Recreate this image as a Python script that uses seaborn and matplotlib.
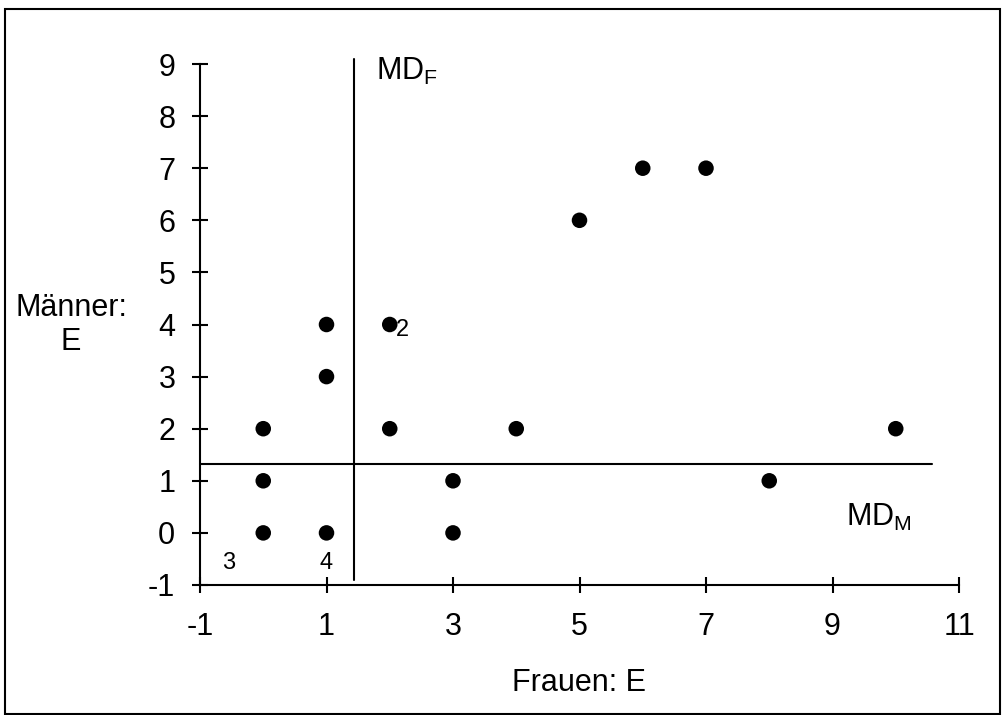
import matplotlib
matplotlib.use("Agg")
import matplotlib.pyplot as plt
import seaborn as sns
import pandas as pd
from matplotlib.patches import Rectangle

# Scores of the pairs: women (x) vs. men (y)
frauen = [0, 1, 3, 0, 3, 8, 0, 2, 4, 10, 1, 1, 2, 5, 6, 7]
maenner = [0, 0, 0, 1, 1, 1, 2, 2, 2, 2, 3, 4, 4, 6, 7, 7]

# Medians drawn as reference lines
md_frauen = 1.43
md_maenner = 1.33

x_ticks = [-1, 1, 3, 5, 7, 9, 11]
y_ticks = [-1, 0, 1, 2, 3, 4, 5, 6, 7, 8, 9]

# Count labels for points/quadrants: (x, y, text)
counts = [(-0.55, -0.57, "3"), (1.0, -0.57, "4"), (2.2, 3.9, "2")]

df = pd.DataFrame({"Frauen": frauen, "Maenner": maenner})

sns.set_style("ticks")
plt.rcParams["font.family"] = ["Liberation Sans", "DejaVu Sans"]
plt.rcParams["axes.unicode_minus"] = False
plt.rcParams["text.color"] = "black"
plt.rcParams["xtick.color"] = "black"
plt.rcParams["ytick.color"] = "black"

fig = plt.figure(figsize=(10.02, 7.15), dpi=100)
ax = fig.add_axes([200 / 1002, 1 - 585 / 715, (959 - 200) / 1002, (585 - 64) / 715])

sns.scatterplot(data=df, x="Frauen", y="Maenner", ax=ax, color="black",
                s=125, edgecolor="none", legend=False, zorder=3)

ax.set_xlim(-1, 11)
ax.set_ylim(-1, 9)
ax.set_xticks(x_ticks)
ax.set_yticks(y_ticks)
ax.set_xlabel("")
ax.set_ylabel("")

for side in ["top", "right"]:
    ax.spines[side].set_visible(False)
for side in ["left", "bottom"]:
    ax.spines[side].set_linewidth(1.5)
    ax.spines[side].set_color("black")

ax.tick_params(axis="both", direction="inout", length=11.5, width=1.5,
               colors="black", labelcolor="black", labelsize=22,
               bottom=True, left=True)
ax.tick_params(axis="y", pad=12)
ax.tick_params(axis="x", pad=14)

# Median lines
ax.plot([md_frauen, md_frauen], [-0.9, 9.1], color="black", lw=1.5,
        clip_on=False, zorder=2)
ax.plot([-1, 10.57], [md_maenner, md_maenner], color="black", lw=1.5,
        clip_on=False, zorder=2)

ax.text(1.78, 8.85, r"MD$_\mathregular{F}$", fontsize=22, ha="left",
        va="center", color="black")
ax.text(9.22, 0.29, r"MD$_\mathregular{M}$", fontsize=22, ha="left",
        va="center", color="black")

for cx, cy, t in counts:
    ax.text(cx, cy, t, fontsize=17, ha="center", va="center", color="black")

fig.text(579 / 1002, 1 - 683 / 715, "Frauen: E", fontsize=22,
         ha="center", va="center", color="black")
fig.text(71 / 1002, 1 - 325 / 715, "Männer:\nE", fontsize=22,
         ha="center", va="center", multialignment="center", linespacing=1.2,
         color="black")

# Outer frame around the whole chart
left_px, top_px, right_px, bottom_px = 5, 9, 999.5, 713.5
fig.patches.append(Rectangle((left_px / 1002, 1 - bottom_px / 715),
                             (right_px - left_px) / 1002,
                             (bottom_px - top_px) / 715,
                             transform=fig.transFigure, fill=False,
                             edgecolor="black", lw=1.5))

fig.savefig("out.png", dpi=100)
